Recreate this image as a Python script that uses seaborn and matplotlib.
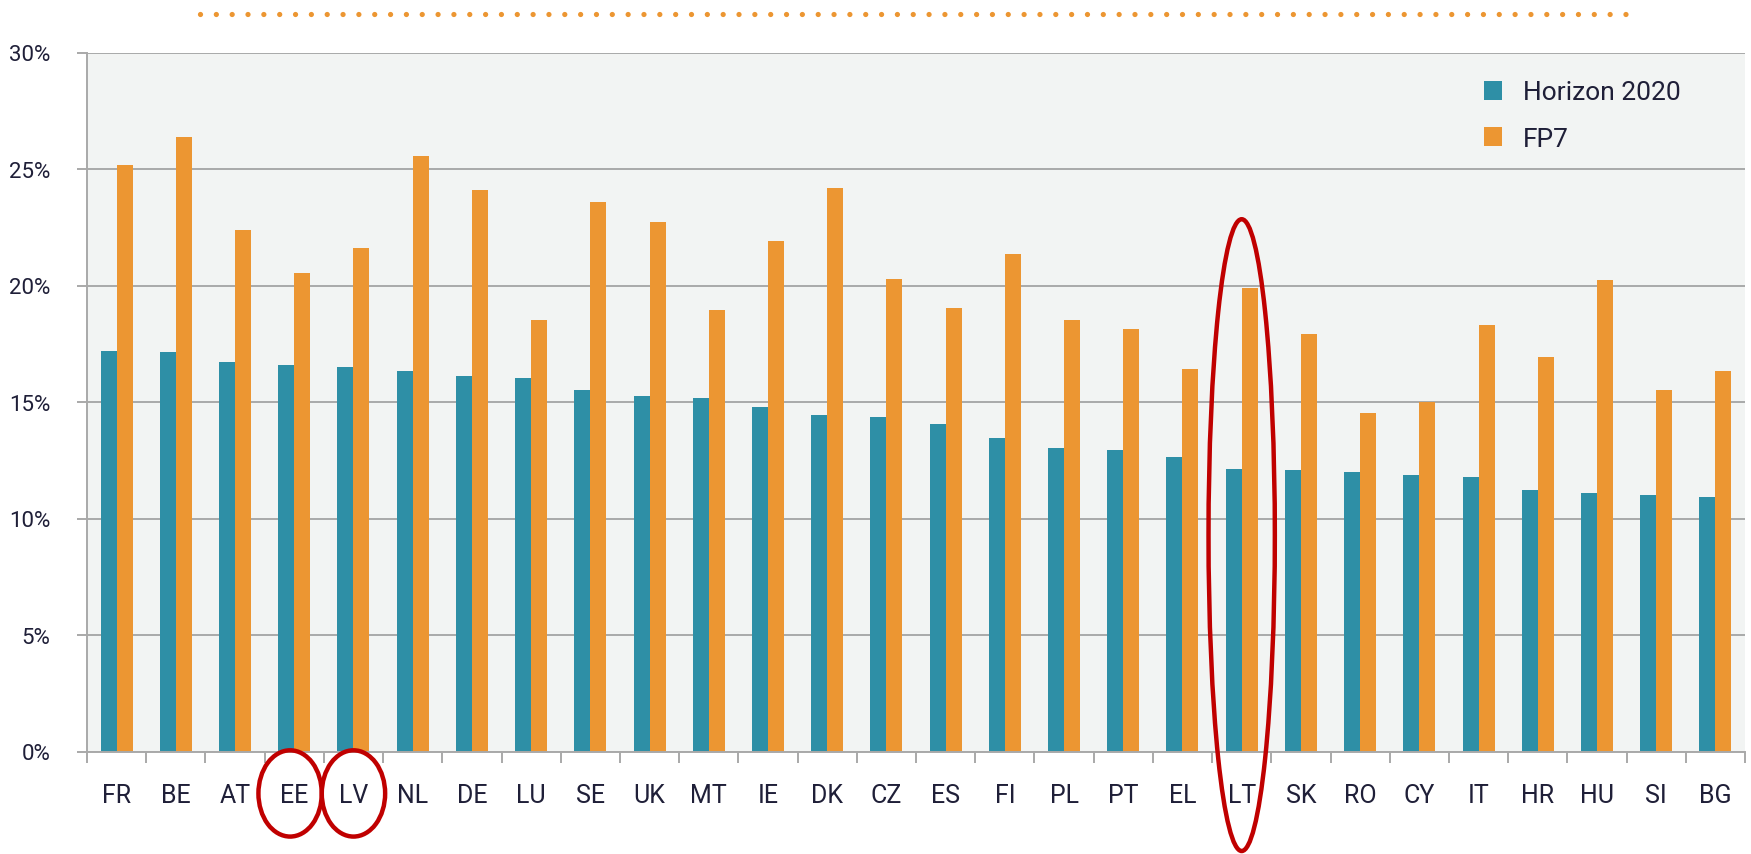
import numpy as np
import pandas as pd
import matplotlib
matplotlib.use("Agg")
import matplotlib.pyplot as plt
import seaborn as sns
from matplotlib.patches import Ellipse
from matplotlib.lines import Line2D

countries = ["FR", "BE", "AT", "EE", "LV", "NL", "DE", "LU", "SE", "UK", "MT", "IE", "DK", "CZ",
             "ES", "FI", "PL", "PT", "EL", "LT", "SK", "RO", "CY", "IT", "HR", "HU", "SI", "BG"]
horizon2020 = [17.18, 17.16, 16.71, 16.61, 16.52, 16.35, 16.11, 16.02, 15.53, 15.27, 15.19, 14.78,
               14.47, 14.38, 14.07, 13.48, 13.02, 12.93, 12.64, 12.13, 12.08, 12.01, 11.87, 11.80,
               11.25, 11.11, 11.01, 10.94]
fp7 = [25.16, 26.36, 22.37, 20.55, 21.61, 25.57, 24.12, 18.51, 23.58, 22.72, 18.97, 21.93,
       24.20, 20.27, 19.05, 21.34, 18.53, 18.13, 16.42, 19.91, 17.93, 14.55, 15.01, 18.30,
       16.94, 20.26, 15.53, 16.34]
series_names = ["Horizon 2020", "FP7"]
yticks = [0, 5, 10, 15, 20, 25, 30]
ytick_labels = [f"{v}%" for v in yticks]
highlight_circles = ["EE", "LV"]
highlight_tall = "LT"

TEAL = "#2e8fa6"
ORANGE = "#ec9632"
GRID = "#a9a9a9"
TEXT = "#1f1f38"
BG = "#f2f4f3"
RED = "#c00000"

df = pd.DataFrame({
    "country": countries * 2,
    "value": horizon2020 + fp7,
    "programme": [series_names[0]] * len(countries) + [series_names[1]] * len(countries),
})

sns.set_theme(style="white")
plt.rcParams["font.family"] = ["Roboto", "DejaVu Sans"]

fig = plt.figure(figsize=(17.51, 8.545), dpi=100)
ax = fig.add_axes([87 / 1751, 1 - 752 / 854, (1745 - 87) / 1751, (752 - 53) / 854])
ax.set_facecolor(BG)

sns.barplot(data=df, x="country", y="value", hue="programme", order=countries,
            hue_order=series_names, palette=[TEAL, ORANGE], saturation=1,
            width=0.54, linewidth=0, ax=ax)

ax.set_xlim(-0.5, len(countries) - 0.5)
ax.set_ylim(0, 30)
ax.set_yticks(yticks)
ax.set_yticklabels(ytick_labels)
ax.set_xlabel("")
ax.set_ylabel("")

ax.yaxis.grid(True, color=GRID, linewidth=1.4)
ax.set_axisbelow(True)
for s in ["top", "right"]:
    ax.spines[s].set_visible(False)
for s in ["left", "bottom"]:
    ax.spines[s].set_color(GRID)
    ax.spines[s].set_linewidth(1.4)

ax.tick_params(axis="y", which="major", length=7.5, width=1.4, color=GRID, pad=19,
               labelsize=16, labelcolor=TEXT, left=True)
ax.tick_params(axis="x", which="major", length=0, pad=23, labelsize=18, labelcolor=TEXT)
ax.set_xticks(np.arange(-0.5, len(countries), 1.0), minor=True)
ax.tick_params(axis="x", which="minor", length=8, width=1.4, color=GRID, bottom=True)

leg = ax.legend(loc="upper left", bbox_to_anchor=(0.836, 0.975), frameon=False,
                fontsize=19, labelspacing=0.85, handlelength=0.7, handleheight=0.75,
                handletextpad=0.8, borderaxespad=0)
for t in leg.get_texts():
    t.set_color(TEXT)

# red highlight ellipses
for c in highlight_circles:
    i = countries.index(c)
    ax.add_patch(Ellipse((i - 0.07 if c == "EE" else i, -1.78), 1.07, 3.7, fill=False,
                         edgecolor=RED, linewidth=3.2, clip_on=False, zorder=10))
i = countries.index(highlight_tall)
ax.add_patch(Ellipse((i, 9.3), 1.12, 27.1, fill=False, edgecolor=RED, linewidth=3.2,
                     clip_on=False, zorder=10))

# dotted decorative line at top
fig.add_artist(Line2D([200 / 1751, 1632 / 1751], [1 - 14 / 854, 1 - 14 / 854],
                      transform=fig.transFigure, color=ORANGE, linewidth=3.8,
                      linestyle=(0, (0.001, 3.0)), dash_capstyle="round"))

fig.savefig("out.png", dpi=100, facecolor="white")
